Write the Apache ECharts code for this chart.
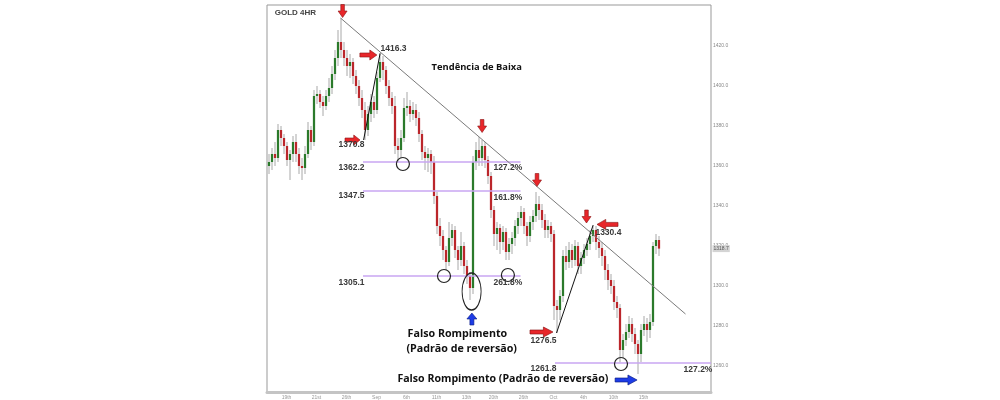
<!DOCTYPE html>
<html><head><meta charset="utf-8">
<script src="https://cdn.jsdelivr.net/npm/echarts@6/dist/echarts.min.js"></script>
<style>html,body{margin:0;padding:0;background:#fff}#c{width:1000px;height:400px}</style>
</head><body><div id="c"></div>
<script>
// ---- DATA: 4HR candles [open, close, low, high] ----
const ohlc = [
[1360,1362,1356,1366],[1362,1366,1358,1369],[1366,1364,1360,1372],[1364,1378,1362,1381],
[1378,1374,1370,1380],[1374,1370,1366,1376],[1370,1363,1360,1372],[1363,1366,1353,1368],
[1366,1372,1362,1375],[1372,1366,1362,1376],[1366,1360,1356,1369],[1360,1359,1353,1364],
[1359,1366,1356,1370],[1366,1378,1364,1382],[1378,1372,1368,1380],[1372,1395,1370,1398],
[1395,1396,1391,1400],[1396,1392,1389,1398],[1392,1390,1385,1395],[1390,1395,1388,1398],
[1395,1399,1392,1404],[1399,1406,1396,1410],[1406,1414,1403,1418],[1414,1422,1410,1428],
[1422,1418,1414,1434],[1418,1414,1410,1422],[1414,1410,1405,1418],[1410,1412,1404,1416],
[1412,1405,1401,1414],[1405,1400,1396,1408],[1400,1394,1390,1403],[1394,1388,1384,1398],
[1388,1378,1373,1392],[1378,1386,1375,1390],[1386,1392,1382,1396],[1392,1388,1384,1395],
[1388,1404,1386,1407],[1404,1412,1402,1416.3],[1412,1408,1403,1415],[1408,1400,1396,1410],
[1400,1394,1390,1403],[1394,1390,1386,1397],[1390,1370,1366,1395],[1370,1368,1362,1374],
[1368,1374,1364,1378],[1374,1389,1372,1394],[1389,1390,1385,1397],[1390,1386,1382,1393],
[1386,1388,1383,1392],[1388,1384,1380,1391],[1384,1376,1372,1387],[1376,1367,1363,1378],
[1367,1364,1358,1370],[1364,1366,1357,1369],[1366,1362,1356,1368],[1362,1345,1341,1365],
[1345,1330,1326,1347],[1330,1325,1320,1334],[1325,1318,1313,1328],[1318,1312,1308,1320],
[1312,1324,1310,1332],[1324,1328,1320,1331],[1328,1318,1314,1330],[1318,1313,1308,1320],
[1313,1320,1310,1327],[1320,1310,1306,1322],[1310,1305,1301,1313],[1305,1299,1293,1307],
[1299,1362,1296,1365],[1362,1368,1358,1372],[1368,1364,1360,1374.5],[1364,1370,1360,1373],
[1370,1363,1359,1372],[1363,1355,1351,1365],[1355,1338,1334,1357],[1338,1326,1320,1340],
[1326,1329,1318,1332],[1329,1322,1316,1331],[1322,1327,1318,1330],[1327,1317,1313,1329],
[1317,1321,1313,1324],[1321,1324,1316,1327],[1324,1330,1320,1333],[1330,1334,1326,1337],
[1334,1337,1330,1340],[1337,1330,1326,1339],[1330,1325,1320,1332],[1325,1332,1322,1335],
[1332,1335,1328,1338],[1335,1341,1332,1347],[1341,1338,1333,1345],[1338,1333,1329,1341],
[1333,1328,1324,1336],[1328,1330,1324,1333],[1330,1326,1322,1332],[1326,1290,1283,1328],
[1290,1288,1276.5,1293],[1288,1295,1283,1298],[1295,1315,1292,1318],[1315,1312,1308,1320],
[1312,1318,1309,1322],[1318,1313,1309,1321],[1313,1320,1310,1323],[1320,1310,1306,1322],
[1310,1314,1306,1317],[1314,1318,1311,1321],[1318,1321,1315,1324],[1321,1325,1318,1328],
[1325,1328,1322,1330.4],[1328,1322,1318,1330],[1322,1319,1314,1325],[1319,1315,1310,1322],
[1315,1308,1303,1318],[1308,1303,1298,1311],[1303,1300,1296,1306],[1300,1292,1288,1303],
[1292,1289,1284,1295],[1289,1268,1261.8,1291],[1268,1273,1264,1276],[1273,1277,1270,1281],
[1277,1281,1274,1285],[1281,1276,1272,1284],[1276,1271,1266,1279],[1271,1266,1256,1273],
[1266,1278,1262,1281],[1278,1281,1275,1285],[1281,1278,1272,1284],[1278,1282,1274,1286],
[1282,1320,1280,1322],[1320,1323,1316,1326],[1323,1318.7,1315,1325]
];
const yTicks = [1260,1280,1300,1320,1340,1360,1380,1400,1420];
const xTickIndex = [6,16,26,36,46,56,66,75,85,95,105,115,125];
const xTickLabels = ['19th','21st','26th','Sep','6th','11th','13th','20th','26th','Oct','4th','10th','15th'];
const lastPrice = 1318.7;
const fibLevels = [1362.2, 1347.5, 1305.1, 1261.8];
const fibLabels = ['127.2%', '161.8%', '261.8%', '127.2%'];
const swingLabels = ['1416.3', '1370.8', '1276.5', '1330.4'];

// ---- annotation placement (data coords: [candle index, price]) ----
const levelSpans = [[31.5,84],[31.5,84],[31.5,84],[95.5,147.5]];
const levelTextLeft = [[23.2,1359],[23.2,1345],[23.2,1301.5],[87.2,1258.5]];
const fibTextPos = [[74.8,1359],[74.8,1344],[74.8,1301.5],[138.2,1258]];
const swingTextPos = [[37.2,1418.5],[23.2,1370.5],[87.2,1272.5],[108.8,1326.5]];

const P_DOWN='path://M3,0L7,0L7,6L10,6L5,12L0,6L3,6Z';
const P_UP='path://M5,0L10,6L7,6L7,12L3,12L3,6L0,6Z';
const P_RIGHT='path://M0,3L7,3L7,0L12,5L7,10L7,7L0,7Z';
const P_LEFT='path://M12,3L5,3L5,0L0,5L5,10L5,7L12,7Z';
const RED={color:'#e8262a',borderColor:'#8a1414',borderWidth:0.6};
const BLUE={color:'#1d3ce6',borderColor:'#0a1a80',borderWidth:0.6};

const arrows = [
  {p:P_DOWN,c:[24.7,1437.5],s:[9,13],st:RED},
  {p:P_DOWN,c:[71.2,1380],s:[9,13],st:RED},
  {p:P_DOWN,c:[89.5,1353],s:[9,13],st:RED},
  {p:P_DOWN,c:[106,1334.75],s:[9,13],st:RED},
  {p:P_RIGHT,c:[33.3,1415.5],s:[17,10],st:RED},
  {p:P_RIGHT,c:[28,1373],s:[15,10],st:RED},
  {p:P_RIGHT,c:[91,1277],s:[23,10],st:RED},
  {p:P_LEFT,c:[113,1330.8],s:[21,10],st:RED},
  {p:P_UP,c:[67.8,1283.5],s:[10,12],st:BLUE},
  {p:P_RIGHT,c:[119.2,1253],s:[22,10],st:BLUE}
];
const circles = [
  {c:[44.8,1361],s:[13,13]},{c:[58.5,1305],s:[13,13]},{c:[79.8,1305.5],s:[13,13]},
  {c:[117.5,1261],s:[13,13]},{c:[67.7,1297.25],s:[19,37]}
];
const texts = [
  {t:'GOLD 4HR',c:[1.9,1436.5],f:8,col:'#444',fam:'Liberation Sans'},
  {t:'Tendência de Baixa',c:[54.2,1409.5],f:9.4,col:'#111',fam:'Open Sans'},
  {t:'Falso Rompimento',c:[46.2,1276],f:10.7,col:'#111',fam:'Open Sans'},
  {t:'(Padrão de reversão)',c:[45.8,1268.5],f:10.7,col:'#111',fam:'Open Sans'},
  {t:'Falso Rompimento (Padrão de reversão)',c:[42.8,1253.5],f:10.6,col:'#111',fam:'Open Sans'}
];

function txt(t,c,size,col,fam,weight){
  return {coord:c,symbol:'circle',symbolSize:1,itemStyle:{color:'rgba(0,0,0,0)'},
    label:{show:true,formatter:t,position:'right',distance:0,fontSize:size,color:col,
      fontFamily:fam,fontWeight:weight||'bold'}};
}
const mpData = [];
arrows.forEach(a=>mpData.push({coord:a.c,symbol:a.p,symbolSize:a.s,itemStyle:a.st,label:{show:false}}));
circles.forEach(a=>mpData.push({coord:a.c,symbol:'circle',symbolSize:a.s,
  itemStyle:{color:'rgba(0,0,0,0)',borderColor:'#222',borderWidth:1.2},label:{show:false}}));
texts.forEach(a=>mpData.push(txt(a.t,a.c,a.f,a.col,a.fam,'bold')));
fibLevels.forEach((v,k)=>{
  mpData.push(txt(v.toFixed(1),levelTextLeft[k],8.5,'#3a3a3a','Liberation Sans'));
  mpData.push(txt(fibLabels[k],fibTextPos[k],8.5,'#3a3a3a','Liberation Sans'));
});
swingLabels.forEach((t,k)=>mpData.push(txt(t,swingTextPos[k],8.5,'#3a3a3a','Liberation Sans')));
mpData.push({coord:[147.5,lastPrice],symbol:'circle',symbolSize:1,itemStyle:{color:'rgba(0,0,0,0)'},
  label:{show:true,formatter:lastPrice.toFixed(1),position:'right',distance:1,fontSize:5,color:'#555',
    backgroundColor:'#d4d4d4',padding:[1,1]}});

const mlData = [];
fibLevels.forEach((v,k)=>mlData.push([{coord:[levelSpans[k][0],v],lineStyle:{color:'#c9a6f2',width:1.5,type:'solid'}},{coord:[levelSpans[k][1],v]}]));
mlData.push([{coord:[24,1434],lineStyle:{color:'#7a7a7a',width:1,type:'solid'}},{coord:[139,1286]}]);
mlData.push([{coord:[31.7,1373],lineStyle:{color:'#111',width:1,type:'solid'}},{coord:[37.2,1416.3]}]);
mlData.push([{coord:[96,1276.5],lineStyle:{color:'#111',width:1,type:'solid'}},{coord:[108.2,1330.4]}]);

const chart = echarts.init(document.getElementById('c'),null,{renderer:'canvas'});
chart.setOption({
  animation:false,
  backgroundColor:'#fff',
  grid:{left:267,right:289,top:5,bottom:8,show:true,borderColor:'#999',borderWidth:1,backgroundColor:'#fff'},
  xAxis:{type:'value',min:-0.5,max:147.5,splitLine:{show:false},axisTick:{show:false},
    axisLine:{show:true,onZero:false,lineStyle:{color:'#c4c4c4',width:3}},
    axisLabel:{customValues:xTickIndex,fontSize:5,color:'#999',margin:3,
      formatter:v=>{const k=xTickIndex.indexOf(v);return k>=0?xTickLabels[k]:'';}}},
  yAxis:{type:'value',position:'right',min:1247,max:1440.5,splitLine:{show:false},axisTick:{show:false},
    axisLine:{show:false},
    axisLabel:{customValues:yTicks,fontSize:5,color:'#888',margin:2,formatter:v=>v.toFixed(1)}},
  series:[{
    type:'custom',
    data:ohlc.map((d,i)=>[i,d[0],d[1],d[2],d[3]]),
    encode:{x:0,y:[1,2,3,4]},
    clip:false,
    silent:true,
    renderItem:(params,api)=>{
      const i=api.value(0),o=api.value(1),c=api.value(2),l=api.value(3),h=api.value(4);
      const po=api.coord([i,o]),pc=api.coord([i,c]),pl=api.coord([i,l]),ph=api.coord([i,h]);
      const w=api.size([1,0])[0]*0.75;
      const x=Math.round(po[0]);
      return {type:'group',children:[
        {type:'line',shape:{x1:x,y1:ph[1],x2:x,y2:pl[1]},style:{stroke:'#a8a8a8',lineWidth:1}},
        {type:'rect',shape:{x:x-w/2,y:Math.min(po[1],pc[1]),width:w,height:Math.max(1,Math.abs(po[1]-pc[1]))},
          style:{fill:c>=o?'#2b7a2b':'#bb262b'}}
      ]};
    },
    markLine:{silent:true,symbol:['none','none'],label:{show:false},data:mlData},
    markPoint:{silent:true,data:mpData}
  }]
});
</script></body></html>
